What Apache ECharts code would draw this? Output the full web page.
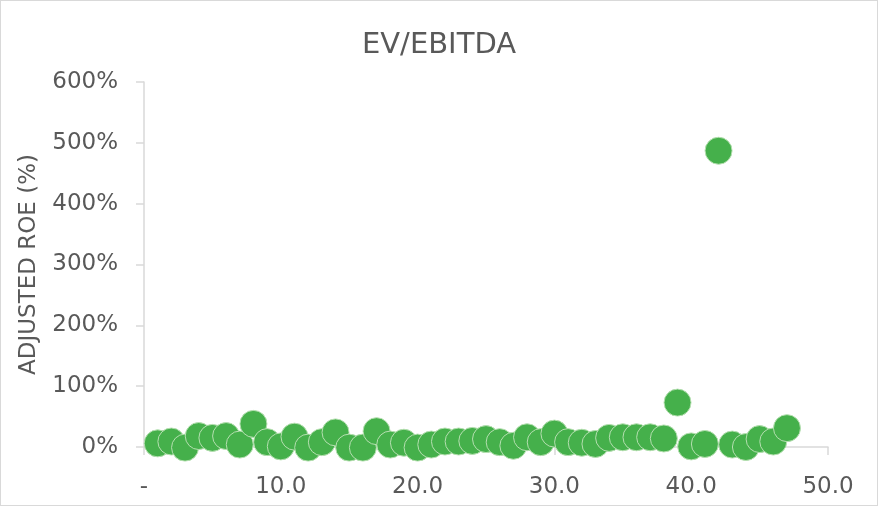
<!DOCTYPE html>
<html>
<head>
<meta charset="utf-8">
<script src="https://cdn.jsdelivr.net/npm/echarts@6/dist/echarts.min.js"></script>
<style>
  html, body { margin: 0; padding: 0; background: #fff; }
  #chart { width: 878px; height: 506px; box-sizing: border-box; border: 1px solid #d9d9d9; }
</style>
</head>
<body>
<div id="chart"></div>
<script>
// x = EV/EBITDA, y = adjusted ROE in %
const evEbitda = [1, 2, 3, 4, 5, 6, 7, 8, 9, 10, 11, 12, 13, 14, 15, 16, 17, 18, 19, 20,
  21, 22, 23, 24, 25, 26, 27, 28, 29, 30, 31, 32, 33, 34, 35, 36, 37, 38, 39, 40,
  41, 42, 43, 44, 45, 46, 47];
const adjustedRoe = [6, 9, -1, 18, 15, 18, 4, 38, 8, 1, 17, -1, 8, 24, -1, -1, 26, 4, 7, -1,
  4, 9, 9, 10, 13, 8, 2, 16, 8, 22, 8, 7, 5, 15, 16, 16, 16, 14, 73, 1,
  5, 487, 4, 0, 13, 9, 31];
const yTicks = [0, 100, 200, 300, 400, 500, 600];
const xTicks = [0, 10, 20, 30, 40, 50];

const font = 'DejaVu Sans';
const textColor = '#595959';
const lineColor = '#d9d9d9';

const chart = echarts.init(document.getElementById('chart'));
chart.setOption({
  animation: false,
  title: {
    text: 'EV/EBITDA',
    left: 'center',
    top: 25,
    textStyle: { fontFamily: font, fontSize: 29, fontWeight: 'normal', color: textColor }
  },
  grid: { left: 143, right: 49, top: 81, bottom: 58 },
  xAxis: {
    type: 'value',
    min: xTicks[0],
    max: xTicks[xTicks.length - 1],
    interval: 10,
    splitLine: { show: false },
    axisLine: { lineStyle: { color: lineColor, width: 1.5 } },
    axisTick: { show: true, length: 8, lineStyle: { color: lineColor, width: 1.5 } },
    axisLabel: {
      fontFamily: font, fontSize: 23, color: textColor, margin: 29,
      formatter: v => v === 0 ? '-' : v.toFixed(1)
    }
  },
  yAxis: {
    type: 'value',
    min: yTicks[0],
    max: yTicks[yTicks.length - 1],
    interval: 100,
    name: 'ADJUSTED ROE (%)',
    nameLocation: 'middle',
    nameGap: 103,
    nameRotate: 90,
    nameTextStyle: { fontFamily: font, fontSize: 23, color: textColor },
    splitLine: { show: false },
    axisLine: { show: true, lineStyle: { color: lineColor, width: 1.5 } },
    axisTick: { show: true, length: 8, lineStyle: { color: lineColor, width: 1.5 } },
    axisLabel: { fontFamily: font, fontSize: 23, color: textColor, margin: 26, formatter: '{value}%' }
  },
  series: [{
    type: 'scatter',
    clip: false,
    symbolSize: 27,
    data: evEbitda.map((x, i) => [x, adjustedRoe[i]]),
    itemStyle: { color: '#45b04b', opacity: 1, borderColor: '#b5dfb0', borderWidth: 1 }
  }]
});
</script>
</body>
</html>
